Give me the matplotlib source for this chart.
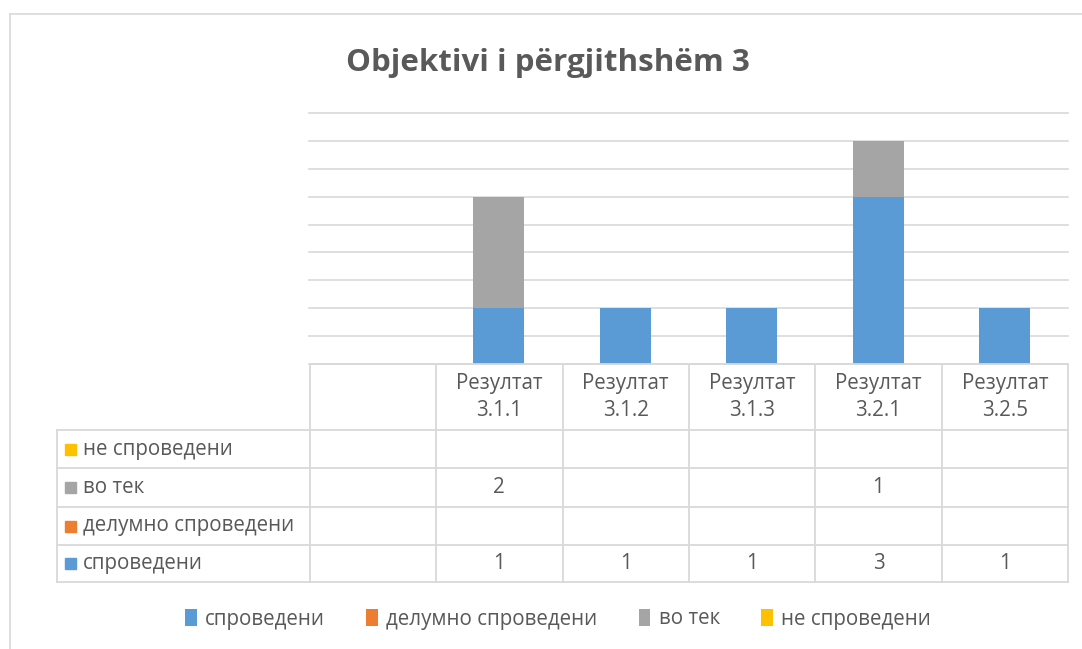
import matplotlib
matplotlib.use("Agg")
import matplotlib.pyplot as plt
from matplotlib.patches import Patch, Rectangle
from matplotlib.lines import Line2D
import numpy as np

# ---- data ----
categories = ["", "Резултат\n3.1.1", "Резултат\n3.1.2", "Резултат\n3.1.3", "Резултат\n3.2.1", "Резултат\n3.2.5"]
series_names = ["спроведени", "делумно спроведени", "во тек", "не спроведени"]
sprovedeni = [None, 1, 1, 1, 3, 1]
delumno = [None, None, None, None, None, None]
vo_tek = [None, 2, None, None, 1, None]
ne_sprovedeni = [None, None, None, None, None, None]
colors = ["#5B9BD5", "#ED7D31", "#A5A5A5", "#FFC000"]
title = "Objektivi i përgjithshëm 3"

series = [sprovedeni, delumno, vo_tek, ne_sprovedeni]

FONT = ["Open Sans", "DejaVu Sans"]
plt.rcParams["font.family"] = FONT
TXT = "#595959"
GRID = "#D9D9D9"
FS = 14.8

W, H = 1082, 649
fig = plt.figure(figsize=(W / 100, H / 100), dpi=100)
fig.patch.set_facecolor("white")


def box(x0, y0, x1, y1):
    return [x0 / W, 1 - y1 / H, (x1 - x0) / W, (y1 - y0) / H]


# outer chart border (cropped on right/bottom)
fig.add_artist(Line2D([10 / W, 1], [1 - 14 / H, 1 - 14 / H], transform=fig.transFigure, color=GRID, lw=1.2))
fig.add_artist(Line2D([10 / W, 10 / W], [0, 1 - 14 / H], transform=fig.transFigure, color=GRID, lw=1.2))

# title
fig.text(548 / W, 1 - 63 / H, title, ha="center", va="center", fontsize=22.5,
         fontweight="bold", color=TXT)

# ---- bar axes ----
ax = fig.add_axes(box(309, 113, 1068, 364))
x = np.arange(len(categories))
bottom = np.zeros(len(categories))
for vals, col, name in zip(series, colors, series_names):
    v = np.array([0 if a is None else a for a in vals], dtype=float)
    ax.bar(x, v, width=0.4, bottom=bottom, color=col, label=name, zorder=3)
    bottom += v
ax.set_xlim(-0.5, len(categories) - 0.5)
ax.set_ylim(0, 4.5)
ax.set_yticks(np.arange(0, 4.51, 0.5))
ax.yaxis.grid(True, color=GRID, lw=1.2, zorder=0)
for gl in ax.get_ygridlines():
    gl.set_clip_on(False)
ax.tick_params(left=False, bottom=False, labelleft=False, labelbottom=False)
for s in ax.spines.values():
    s.set_visible(False)
ax.set_facecolor("none")

# ---- data table axes ----
tax = fig.add_axes(box(57, 364, 1068, 582))
tax.set_xlim(-2.5, len(categories) - 0.5)
tax.set_ylim(218, 0)
tax.axis("off")
rows_y = [0, 66, 104, 143, 181, 218]
lw = 1.3
# horizontal lines
tax.plot([-0.5, len(categories) - 0.5], [0, 0], color=GRID, lw=lw, clip_on=False)
for yy in rows_y[1:]:
    tax.plot([-2.5, len(categories) - 0.5], [yy, yy], color=GRID, lw=lw, clip_on=False)
# vertical lines
for xx in np.arange(-0.5, len(categories), 1.0):
    tax.plot([xx, xx], [0, 218], color=GRID, lw=lw, clip_on=False)
tax.plot([-2.5, -2.5], [66, 218], color=GRID, lw=lw, clip_on=False)

# headers
for i, c in enumerate(categories):
    tax.text(i, 33, c, ha="center", va="center", fontsize=FS, color=TXT, linespacing=1.4)

# rows (reverse order, top is last series)
px_per_unit = 1011 / 8.0
for r, idx in enumerate(range(len(series) - 1, -1, -1)):
    yc = (rows_y[r + 1] + rows_y[r + 2]) / 2
    sq = 11
    tax.add_patch(Rectangle((-2.5 + 8 / px_per_unit, yc - sq / 2), sq / px_per_unit, sq,
                            color=colors[idx], clip_on=False))
    tax.text(-2.5 + 26 / px_per_unit, yc, series_names[idx], ha="left", va="center",
             fontsize=FS, color=TXT)
    for i, v in enumerate(series[idx]):
        if v is not None:
            tax.text(i, yc, str(v), ha="center", va="center", fontsize=FS, color=TXT)

# legend
handles = [Patch(facecolor=c, edgecolor="none") for c in colors]
fig.legend(handles, series_names, loc="center", bbox_to_anchor=(558 / W, 1 - 619 / H),
           ncol=4, frameon=False, fontsize=FS, labelcolor=TXT, handlelength=0.58,
           handleheight=0.9, handletextpad=0.4, columnspacing=2.0)

fig.savefig("out.png", dpi=100, facecolor="white")
